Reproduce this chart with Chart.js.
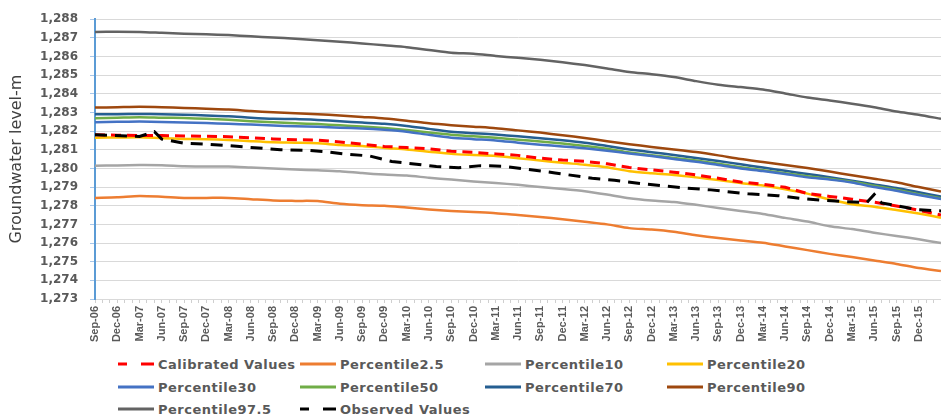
<!DOCTYPE html>
<html>
<head>
<title>Groundwater level</title>
<script src="https://cdn.jsdelivr.net/npm/chart.js@4.4.1/dist/chart.umd.min.js"></script>
<style>
body { margin: 0; background: #fff; }
#wrap { position: relative; width: 941px; height: 414px; overflow: hidden; }
#chart { position: absolute; left: 0; top: 0; }
.item { position: absolute; height: 18px; margin-top: -9px; display: flex; align-items: center;
        font: bold 13px "DejaVu Sans"; color: #595959; letter-spacing: 0.5px; white-space: nowrap; }
.item svg { margin-right: 4px; }
</style>
</head>
<body>
<div id="wrap">
    <canvas id="chart" width="941" height="352"></canvas>
    <div id="legend"></div>
</div>
<script>
// quarterly tick labels, month 0 = Sep-06
const tickLabels = ['Sep-06','Dec-06','Mar-07','Jun-07','Sep-07','Dec-07','Mar-08','Jun-08','Sep-08','Dec-08',
    'Mar-09','Jun-09','Sep-09','Dec-09','Mar-10','Jun-10','Sep-10','Dec-10','Mar-11','Jun-11',
    'Sep-11','Dec-11','Mar-12','Jun-12','Sep-12','Dec-12','Mar-13','Jun-13','Sep-13','Dec-13',
    'Mar-14','Jun-14','Sep-14','Dec-14','Mar-15','Jun-15','Sep-15','Dec-15'];

// months since Sep-06 for the simulated series
const qMonths = [0,3,6,9,12,15,18,21,24,27,30,33,36,39,42,45,48,51,54,57,60,63,66,69,72,75,78,81,84,87,90,93,96,99,102,105,108,111,114];

const calibrated = [1281.80,1281.78,1281.77,1281.76,1281.74,1281.72,1281.70,1281.64,1281.58,1281.54,
    1281.52,1281.42,1281.30,1281.18,1281.12,1281.05,1280.92,1280.86,1280.78,1280.70,
    1280.55,1280.45,1280.38,1280.25,1280.05,1279.92,1279.80,1279.65,1279.47,1279.27,
    1279.15,1278.99,1278.65,1278.50,1278.35,1278.19,1277.99,1277.76,1277.50];
const p2_5 = [1278.42,1278.45,1278.52,1278.48,1278.42,1278.42,1278.42,1278.35,1278.28,1278.26,
    1278.25,1278.10,1278.03,1278.00,1277.90,1277.80,1277.72,1277.66,1277.60,1277.50,
    1277.40,1277.28,1277.14,1277.00,1276.80,1276.72,1276.60,1276.42,1276.27,1276.14,
    1276.02,1275.82,1275.62,1275.42,1275.25,1275.06,1274.88,1274.66,1274.50];
const p10 = [1280.15,1280.16,1280.18,1280.17,1280.12,1280.10,1280.10,1280.05,1280.00,1279.94,
    1279.90,1279.85,1279.75,1279.67,1279.62,1279.50,1279.40,1279.30,1279.22,1279.12,
    1279.00,1278.90,1278.78,1278.60,1278.40,1278.28,1278.20,1278.05,1277.88,1277.72,
    1277.56,1277.35,1277.15,1276.90,1276.75,1276.55,1276.38,1276.20,1276.00];
const p20 = [1281.65,1281.66,1281.67,1281.62,1281.58,1281.57,1281.53,1281.46,1281.40,1281.38,
    1281.35,1281.25,1281.20,1281.10,1281.02,1280.90,1280.78,1280.72,1280.67,1280.55,
    1280.42,1280.30,1280.20,1280.06,1279.85,1279.74,1279.65,1279.52,1279.38,1279.22,
    1279.08,1278.88,1278.65,1278.33,1278.08,1277.95,1277.77,1277.58,1277.36];
const p30 = [1282.48,1282.50,1282.51,1282.49,1282.46,1282.43,1282.39,1282.35,1282.30,1282.26,
    1282.23,1282.18,1282.14,1282.07,1281.97,1281.80,1281.65,1281.57,1281.50,1281.38,
    1281.27,1281.18,1281.08,1280.95,1280.80,1280.66,1280.50,1280.36,1280.18,1280.00,
    1279.86,1279.70,1279.52,1279.40,1279.24,1279.00,1278.80,1278.57,1278.36];
const p50 = [1282.69,1282.72,1282.75,1282.72,1282.70,1282.66,1282.61,1282.53,1282.47,1282.42,
    1282.38,1282.31,1282.25,1282.17,1282.06,1281.92,1281.80,1281.72,1281.64,1281.54,
    1281.45,1281.33,1281.20,1281.05,1280.86,1280.71,1280.56,1280.42,1280.25,1280.07,
    1279.90,1279.74,1279.58,1279.45,1279.28,1279.07,1278.86,1278.62,1278.40];
const p70 = [1282.90,1282.91,1282.92,1282.90,1282.88,1282.84,1282.80,1282.72,1282.66,1282.65,
    1282.60,1282.53,1282.46,1282.39,1282.28,1282.12,1281.97,1281.89,1281.82,1281.72,
    1281.62,1281.51,1281.38,1281.20,1281.02,1280.87,1280.72,1280.56,1280.40,1280.22,
    1280.05,1279.87,1279.70,1279.53,1279.34,1279.14,1278.95,1278.72,1278.49];
const p90 = [1283.26,1283.28,1283.30,1283.28,1283.24,1283.20,1283.16,1283.08,1283.01,1282.96,
    1282.91,1282.84,1282.76,1282.68,1282.56,1282.42,1282.32,1282.24,1282.16,1282.04,
    1281.92,1281.78,1281.63,1281.46,1281.30,1281.15,1281.02,1280.88,1280.70,1280.50,
    1280.34,1280.18,1280.02,1279.83,1279.63,1279.45,1279.26,1279.00,1278.76];
const p97_5 = [1287.32,1287.33,1287.32,1287.27,1287.22,1287.19,1287.15,1287.08,1287.02,1286.95,
    1286.87,1286.79,1286.70,1286.60,1286.50,1286.35,1286.20,1286.15,1286.03,1285.93,
    1285.82,1285.69,1285.54,1285.36,1285.17,1285.05,1284.90,1284.68,1284.49,1284.36,
    1284.23,1284.02,1283.80,1283.64,1283.47,1283.28,1283.05,1282.88,1282.66];

// observed levels
const obsMonths = [0,6,8,9,12,15,18,25,29,31,34,37,40,43,46,49,52,55,58,62,
    67,70,74,79,83,88,92,95,98,101,104,105,106,108,111,114];
const observed = [1281.80,1281.71,1281.97,1281.57,1281.35,1281.30,1281.22,1281.00,1280.96,1280.90,
    1280.76,1280.67,1280.37,1280.24,1280.10,1280.04,1280.15,1280.12,1279.97,1279.76,
    1279.47,1279.36,1279.17,1278.97,1278.85,1278.64,1278.54,1278.40,1278.29,1278.22,
    1278.17,1278.60,1278.15,1278.00,1277.78,1277.72];

function pts(xs, ys) {
    return xs.map((x, i) => ({ x: x, y: ys[i] }));
}

const series = [
    { label: 'Calibrated Values', x: qMonths, y: calibrated, color: '#ff0000', dash: [10, 6], order: 1 },
    { label: 'Percentile2.5', x: qMonths, y: p2_5, color: '#ed7d31', order: 3 },
    { label: 'Percentile10', x: qMonths, y: p10, color: '#a5a5a5', order: 3 },
    { label: 'Percentile20', x: qMonths, y: p20, color: '#ffc000', order: 2 },
    { label: 'Percentile30', x: qMonths, y: p30, color: '#4472c4', order: 3 },
    { label: 'Percentile50', x: qMonths, y: p50, color: '#70ad47', order: 3 },
    { label: 'Percentile70', x: qMonths, y: p70, color: '#255e91', order: 4 },
    { label: 'Percentile90', x: qMonths, y: p90, color: '#9e480e', order: 3 },
    { label: 'Percentile97.5', x: qMonths, y: p97_5, color: '#636363', order: 3 },
    { label: 'Observed Values', x: obsMonths, y: observed, color: '#000000', dash: [12, 8], order: 0 }
];

new Chart(document.getElementById('chart').getContext('2d'), {
    type: 'line',
    data: {
        datasets: series.map(s => ({
            label: s.label,
            data: pts(s.x, s.y),
            borderColor: s.color,
            backgroundColor: s.color,
            borderDash: s.dash || [],
            borderWidth: s.dash ? 3 : 2.5,
            tension: s.dash ? 0 : 0.25,
            pointRadius: 0,
            order: s.order
        }))
    },
    options: {
        responsive: false,
        animation: false,
        layout: { padding: { top: 19, right: 0, left: 0, bottom: 0 } },
        plugins: { legend: { display: false }, tooltip: { enabled: false } },
        scales: {
            x: {
                type: 'linear', min: 0, max: 114,
                grid: { drawOnChartArea: false, color: '#cfcfcf', tickLength: 4 },
                border: { color: '#d9d9d9' },
                ticks: {
                    stepSize: 1, autoSkip: false, minRotation: 90, maxRotation: 90, padding: 3,
                    color: '#595959',
                    font: { family: 'Liberation Sans', weight: 'bold', size: 11 },
                    callback: v => (v % 3 === 0 && tickLabels[v / 3]) ? tickLabels[v / 3] : ''
                },
                afterFit: s => { s.height = 53; s.paddingLeft = 0; s.paddingRight = 0; }
            },
            y: {
                min: 1273, max: 1288,
                grid: {
                    color: c => (c.tick && Number.isInteger(c.tick.value)) ? '#d9d9d9' : '#eeeeee',
                    tickColor: '#a9c7e8', tickLength: 5
                },
                border: { color: '#5b9bd5', width: 2 },
                ticks: {
                    stepSize: 0.5, padding: 12, color: '#595959',
                    font: { family: 'DejaVu Sans', weight: 'bold', size: 12 },
                    callback: v => Number.isInteger(v) ? v.toLocaleString('en-US') : ''
                },
                title: {
                    display: true, text: 'Groundwater level-m', color: '#404040',
                    font: { family: 'DejaVu Sans', size: 16 }, padding: { top: 7, bottom: 0 }
                },
                afterFit: s => { s.width = 95; }
            }
        }
    }
});

// legend laid out in four aligned columns like the original
const legendCols = [118, 300, 485, 667];
const legendRows = [364, 387, 409];
const legend = document.getElementById('legend');
series.forEach((s, i) => {
    const div = document.createElement('div');
    div.className = 'item';
    div.style.left = legendCols[i % 4] + 'px';
    div.style.top = legendRows[Math.floor(i / 4)] + 'px';
    const dash = s.dash ? 'stroke-dasharray="9 14 13"' : '';
    div.innerHTML = '<svg width="36" height="6"><line x1="0" y1="3" x2="36" y2="3" stroke="' + s.color +
        '" stroke-width="3" ' + dash + '/></svg>' + s.label;
    legend.appendChild(div);
});
</script>
</body>
</html>
